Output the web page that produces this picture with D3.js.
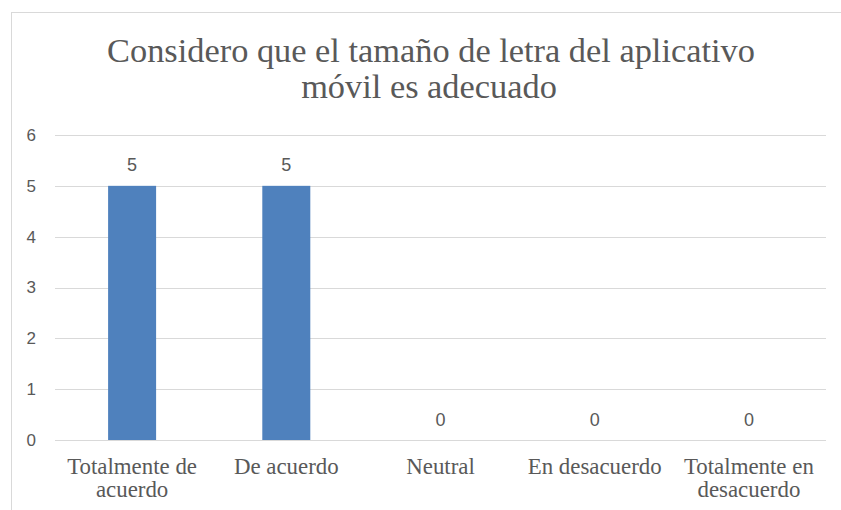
<!DOCTYPE html>
<html><head><meta charset="utf-8">
<script src="https://cdn.jsdelivr.net/npm/d3@7"></script>
<style>body{margin:0;background:#fff}svg{display:block}</style>
</head><body>
<script>
const categories = [["Totalmente de","acuerdo"],["De acuerdo"],["Neutral"],["En desacuerdo"],["Totalmente en","desacuerdo"]];
const values = [5,5,0,0,0];
const yTicks = [0,1,2,3,4,5,6];
const titleLines = ["Considero que el tamaño de letra del aplicativo","móvil es adecuado"];

const W=841,H=510;
const svg=d3.select("body").append("svg").attr("width",W).attr("height",H);
svg.append("rect").attr("x",11.5).attr("y",12.5).attr("width",W+20).attr("height",H+20)
  .attr("fill","#fff").attr("stroke","#d9d9d9");

const serif="'Liberation Serif','Times New Roman',serif";
const sans="'Liberation Sans',Arial,sans-serif";
const grey="#595959";

const x=d3.scaleBand().domain(d3.range(categories.length)).range([55,826]);
const y=d3.scaleLinear().domain([0,6]).range([440,135]);

// gridlines
svg.append("g").selectAll("line").data(yTicks).join("line")
  .attr("x1",55).attr("x2",826).attr("y1",d=>Math.round(y(d))+0.5).attr("y2",d=>Math.round(y(d))+0.5)
  .attr("stroke","#d9d9d9").attr("stroke-width",1);

// y axis labels
const yAxis=d3.axisLeft(y).tickValues(yTicks).tickFormat(d3.format("d")).tickSize(0).tickPadding(0);
const ga=svg.append("g").attr("transform","translate(36,0)").call(yAxis);
ga.select(".domain").remove();
ga.selectAll("text").attr("font-family",sans).attr("font-size",17).attr("fill",grey);

// bars
const bw=48;
svg.append("g").selectAll("rect").data(values).join("rect")
  .attr("x",(d,i)=>x(i)+x.bandwidth()/2-bw/2).attr("width",bw)
  .attr("y",d=>y(d)).attr("height",d=>y(0)-y(d)).attr("fill","#4f81bd");

// data labels
svg.append("g").selectAll("text").data(values).join("text")
  .attr("x",(d,i)=>x(i)+x.bandwidth()/2).attr("y",d=>y(d)-14.5)
  .attr("text-anchor","middle").attr("font-family",sans).attr("font-size",18).attr("fill",grey)
  .text(d=>d);

// category labels
const cg=svg.append("g");
const probe=cg.append("text").attr("font-family",serif).attr("font-size",20).text("Totalmente de");
const cfs=20*130/probe.node().getComputedTextLength();
probe.remove();
categories.forEach((lines,i)=>{
  lines.forEach((t,j)=>{
    cg.append("text").attr("x",x(i)+x.bandwidth()/2).attr("y",474+j*23)
      .attr("text-anchor","middle").attr("font-family",serif).attr("font-size",cfs).attr("fill",grey).text(t);
  });
});

// title
const tl=svg.append("g");
const t1=tl.append("text").attr("x",431).attr("y",62).attr("text-anchor","middle")
  .attr("font-family",serif).attr("font-size",30).attr("fill",grey).text(titleLines[0]);
const w1=t1.node().getComputedTextLength();
const fs=30*648/w1;
t1.attr("font-size",fs);
tl.append("text").attr("x",429).attr("y",98).attr("text-anchor","middle")
  .attr("font-family",serif).attr("font-size",fs).attr("fill",grey).text(titleLines[1]);
</script>
</body></html>
